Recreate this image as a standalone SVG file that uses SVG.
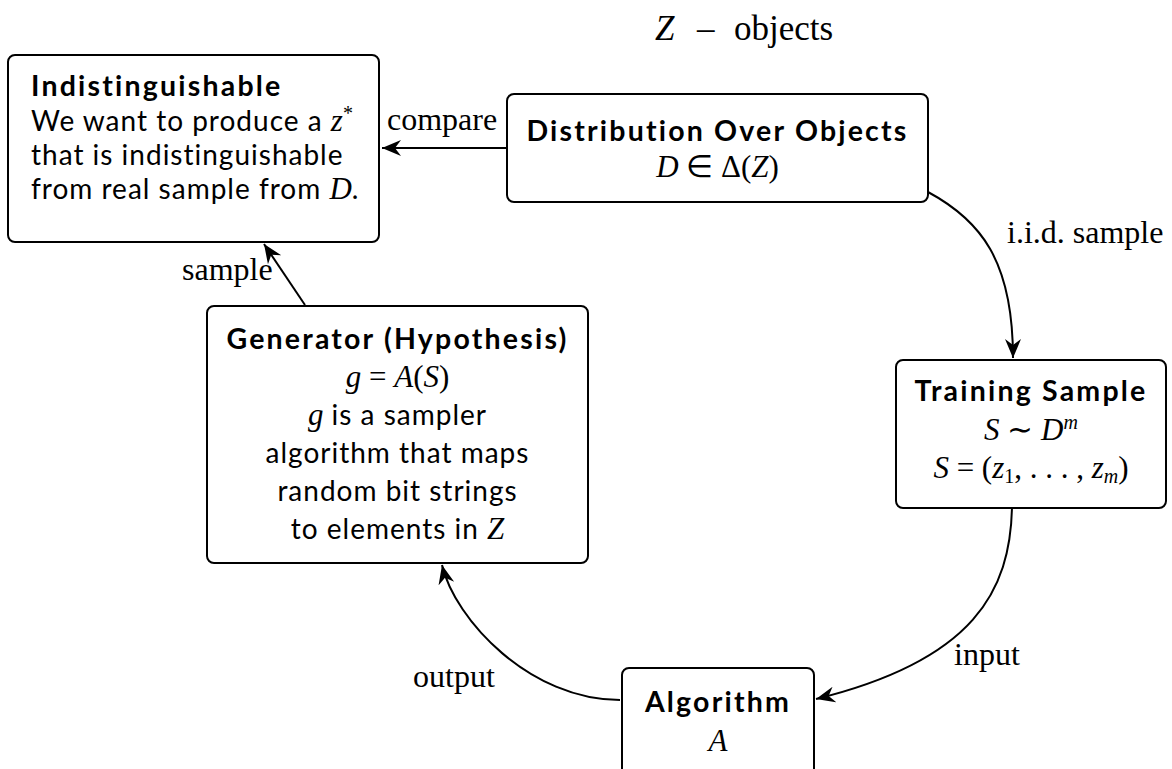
<svg xmlns="http://www.w3.org/2000/svg" width="1172" height="769" viewBox="0 0 1172 769">
<defs>
<style>
.box{fill:#fff;stroke:#000;stroke-width:2}
.s{font-family:Lato,"Noto Sans",sans-serif;font-size:28px;fill:#000;letter-spacing:1px;font-variant-ligatures:none}
.b{font-weight:bold;font-size:28.5px;letter-spacing:2.2px}
.m{font-family:"Liberation Serif",serif;font-style:italic;font-size:31px;letter-spacing:0}
.r{font-family:"Liberation Serif",serif;font-style:normal;font-size:31px;letter-spacing:0}
.sup{font-size:20px}
.lbl{font-family:"Liberation Serif",serif;font-size:32px;fill:#000}
.ttl{font-size:35px}
.c{text-anchor:middle}
.edge{fill:none;stroke:#000;stroke-width:2;marker-end:url(#ah)}
</style>
<marker id="ah" viewBox="-19 -9 20 18" refX="0" refY="0" markerWidth="20" markerHeight="18" markerUnits="userSpaceOnUse" orient="auto">
<path d="M0,0 L-19,-8 L-13,0 L-19,8 Z" fill="#000"/>
</marker>
</defs>
<rect width="1172" height="769" fill="#fff"/>
<text class="lbl ttl" y="40"><tspan class="m ttl" x="655">Z</tspan><tspan x="697">–</tspan><tspan x="734">objects</tspan></text>

<g id="connectors">
<path class="edge" d="M507,148 L382,148"/>
<path class="edge" d="M305,305 L264,244"/>
<path class="edge" d="M928,192 C980,220 1013,260 1013,358"/>
<path class="edge" d="M1012,508 C1010,590 975,660 816,699"/>
<path class="edge" d="M620,700 C530,700 455,620 442,565"/>
<text class="lbl" x="387" y="130">compare</text>
<text class="lbl" x="182" y="280">sample</text>
<text class="lbl" x="1007" y="243">i.i.d. sample</text>
<text class="lbl" x="954" y="665">input</text>
<text class="lbl" x="413" y="687">output</text>
</g>

<g id="indistinguishable">
<rect class="box" x="8" y="55" width="371" height="187" rx="7"/>
<text class="s b" x="31" y="96">Indistinguishable</text>
<text class="s" x="31" y="131">We want to produce a <tspan class="m">z</tspan><tspan class="r sup" dy="-11">*</tspan></text>
<text class="s" x="31" y="165">that is indistinguishable</text>
<text class="s" x="31" y="199">from real sample from <tspan class="m">D</tspan>.</text>
</g>

<g id="distribution">
<rect class="box" x="507" y="94" width="421" height="108" rx="7"/>
<text class="s b c" x="717.5" y="141">Distribution Over Objects</text>
<text class="s c" x="717.5" y="177"><tspan class="m">D</tspan><tspan class="r"> ∈ Δ(</tspan><tspan class="m">Z</tspan><tspan class="r">)</tspan></text>
</g>

<g id="training">
<rect class="box" x="896" y="360" width="270" height="148" rx="7"/>
<text class="s b c" x="1031" y="401">Training Sample</text>
<text class="s c" x="1031" y="440"><tspan class="m">S</tspan><tspan class="r"> ∼ </tspan><tspan class="m">D</tspan><tspan class="m sup" dy="-11">m</tspan></text>
<text class="s c" x="1031" y="478"><tspan class="m">S</tspan><tspan class="r"> = (</tspan><tspan class="m">z</tspan><tspan class="r sup" dy="5">1</tspan><tspan class="r" dy="-5">, . . . , </tspan><tspan class="m">z</tspan><tspan class="m sup" dy="5">m</tspan><tspan class="r" dy="-5">)</tspan></text>
</g>

<g id="generator">
<rect class="box" x="207" y="306" width="381" height="257" rx="7"/>
<text class="s b c" x="397.5" y="349">Generator (Hypothesis)</text>
<text class="s c" x="397.5" y="387"><tspan class="m">g</tspan><tspan class="r"> = </tspan><tspan class="m">A</tspan><tspan class="r">(</tspan><tspan class="m">S</tspan><tspan class="r">)</tspan></text>
<text class="s c" x="397.5" y="425"><tspan class="m">g</tspan> is a sampler</text>
<text class="s c" x="397.5" y="463">algorithm that maps</text>
<text class="s c" x="397.5" y="501">random bit strings</text>
<text class="s c" x="397.5" y="539">to elements in <tspan class="m">Z</tspan></text>
</g>

<g id="algorithm">
<rect class="box" x="622" y="668" width="192" height="110" rx="7"/>
<text class="s b c" x="718" y="712">Algorithm</text>
<text class="s c" x="718" y="751"><tspan class="m">A</tspan></text>
</g>
</svg>
